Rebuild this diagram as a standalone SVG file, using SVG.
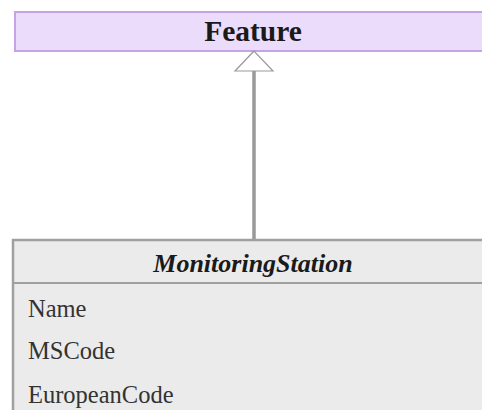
<svg xmlns="http://www.w3.org/2000/svg" width="482" height="410" viewBox="0 0 482 410">
<style>
.title{font-family:"Liberation Serif",serif;font-weight:bold;text-anchor:middle;fill:#1a1a1a}
.attr{font-family:"Liberation Serif",serif;font-size:24.5px;fill:#333}
.box{stroke-width:2}
</style>
<rect width="482" height="410" fill="#ffffff"/>
<g id="Feature">
<rect x="15" y="12" width="480" height="39" fill="#ecdcfc" stroke="#c4a4e4" stroke-width="2"/>
<text class="title" x="253" y="41" font-size="29.5">Feature</text>
</g>
<g id="MonitoringStation">
<rect x="13" y="240" width="480" height="190" fill="#ebebeb" stroke="#a0a0a0" stroke-width="2.5"/>
<line x1="13" y1="283" x2="482" y2="283" stroke="#a0a0a0" stroke-width="2"/>
<text class="title" x="253" y="272" font-size="26" font-style="italic">MonitoringStation</text>
<text class="attr" x="28" y="317">Name</text>
<text class="attr" x="28" y="359">MSCode</text>
<text class="attr" x="28" y="403">EuropeanCode</text>
</g>
<g id="connectors">
<line x1="254" y1="71" x2="254" y2="239" stroke="#999999" stroke-width="3.5"/>
<polygon points="254,51 235,71 273,71" fill="#ffffff" stroke="#999999" stroke-width="1.2"/>
</g>
</svg>
